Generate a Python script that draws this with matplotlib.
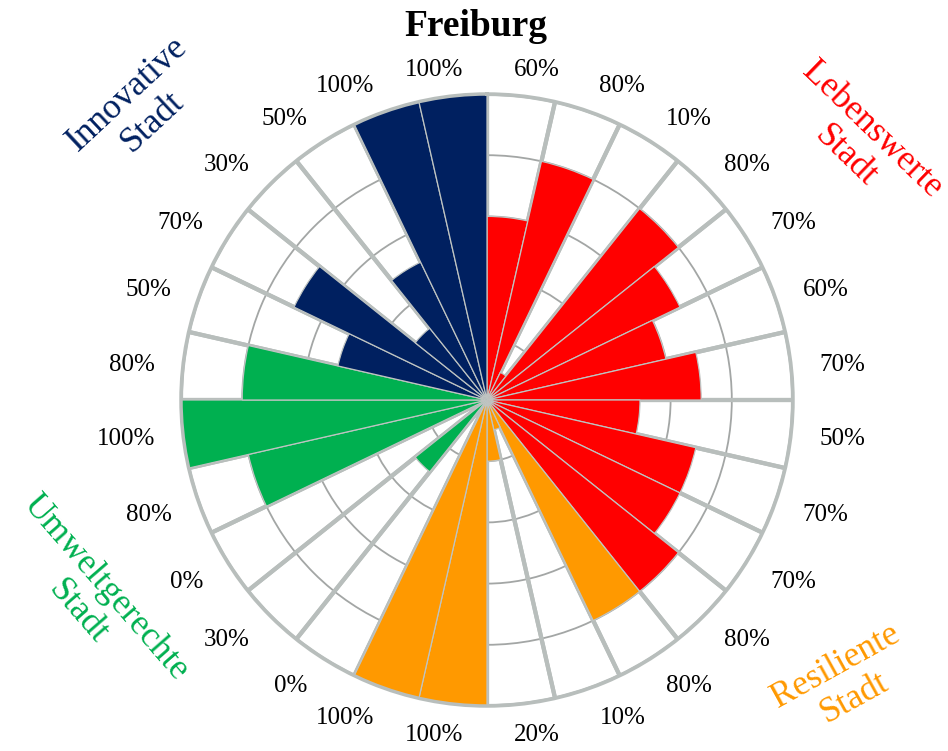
import numpy as np
import matplotlib.pyplot as plt

plt.rcParams['font.family'] = ['Liberation Serif', 'DejaVu Serif']

# values per segment, clockwise from the top
red_vals = [60, 80, 10, 80, 70, 60, 70, 50, 70, 70, 80]
orange_vals = [80, 10, 20, 100, 100, 0]
green_vals = [30, 0, 80, 100, 80]
navy_vals = [50, 70, 30, 50, 100, 100]

groups = [
    ('Lebenswerte\nStadt', '#ff0000', red_vals),
    ('Resiliente\nStadt', '#ff9900', orange_vals),
    ('Umweltgerechte\nStadt', '#00b050', green_vals),
    ('Innovative\nStadt', '#002060', navy_vals),
]

values = []
colors = []
for _, c, v in groups:
    values += v
    colors += [c] * len(v)
values = np.array(values)
n = len(values)
width = 2 * np.pi / n
theta = np.arange(n) * width + width / 2

W, H = 948, 751
fig = plt.figure(figsize=(W / 100, H / 100), dpi=100)
cx, cy, R = 487, 400, 306
ax = fig.add_axes([(cx - R) / W, (H - cy - R) / H, 2 * R / W, 2 * R / H],
                  projection='polar')
ax.set_theta_zero_location('N')
ax.set_theta_direction(-1)
ax.set_ylim(0, 1)
ax.set_xticks([])
ax.set_rticks([0.2, 0.4, 0.6, 0.8])
ax.set_yticklabels([])
ax.set_axisbelow(True)
ax.yaxis.grid(True, color='#a3a6a5', lw=1.3)
ax.spines['polar'].set_color('#b8bebc')
ax.spines['polar'].set_linewidth(2.5)

spoke = '#b8bebc'
# background wedges with thick grey edges
ax.bar(theta, np.ones(n), width=width, bottom=0, facecolor='none',
       edgecolor=spoke, linewidth=3, zorder=1)
# coloured bars
ax.bar(theta, values / 100, width=width, bottom=0, color=colors,
       edgecolor='#bfc4c2', linewidth=0.9, zorder=2)

# percentage labels round the outside
fs = 18
cap = 0.676 * fs            # digit height in points
r0 = 331 / R
anns = []
for th, v in zip(theta, values):
    a = ax.annotate(f'{v}%', xy=(th, r0), xytext=(0, 0),
                    textcoords='offset points', ha='center', va='baseline',
                    fontsize=fs, annotation_clip=False)
    anns.append(a)
fig.canvas.draw()
rend = fig.canvas.get_renderer()
for th, a in zip(theta, anns):
    w = a.get_window_extent(rend).width * 0.72 - 1.5   # points, ink approx
    s, c = np.sin(th), np.cos(th)
    dx = (w / 2 + 3) * np.clip(4.5 * s, -1, 1)
    dy = cap / 2 * np.clip(4.5 * c, -1, 1) - cap / 2 - 3.5 * np.clip(8 * c, -1, 1)
    a.xyann = (dx, dy)

fig.text(476 / W, 1 - 26 / H, 'Freiburg', ha='center', va='center',
         fontsize=27, fontweight='bold')

# group titles in the corners
cat_pos = [(859, 143, -44), (845, 682, 29), (92, 600, -49), (140, 108, 43)]
for (name, c, _), (x, y, rot) in zip(groups, cat_pos):
    fig.text(x / W, 1 - y / H, name, ha='center', va='center',
             rotation=rot, rotation_mode='anchor', multialignment='center',
             fontsize=25.5, color=c, linespacing=1.15)

fig.savefig('out.png', dpi=100)
